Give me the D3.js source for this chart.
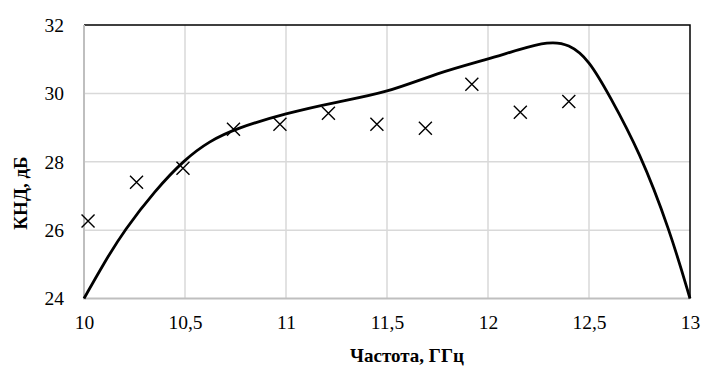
<!DOCTYPE html>
<html><head><meta charset="utf-8">
<script src="https://cdn.jsdelivr.net/npm/d3@7"></script>
<style>body{margin:0;background:#fff}svg{display:block}</style>
</head><body>
<svg id="c" width="701" height="367"></svg>
<script>
const curveFreq = [10.0, 10.1, 10.2, 10.35, 10.5, 10.62, 10.75, 11.0, 11.25, 11.5, 11.75, 12.0, 12.15, 12.3, 12.4, 12.5, 12.6, 12.75, 12.9, 13.0];
const curveGain = [24.0, 25.05, 26.0, 27.15, 28.08, 28.6, 28.97, 29.42, 29.75, 30.02, 30.6, 31.0, 31.28, 31.52, 31.45, 30.98, 29.95, 28.3, 26.0, 24.0];
const measFreq = [10.02, 10.26, 10.49, 10.74, 10.97, 11.21, 11.45, 11.69, 11.92, 12.16, 12.40];
const measGain = [26.27, 27.4, 27.81, 28.95, 29.1, 29.42, 29.1, 28.98, 30.27, 29.45, 29.76];
const xTicks = [10, 10.5, 11, 11.5, 12, 12.5, 13];
const yTicks = [24, 26, 28, 30, 32];
const xTitle = "Частота, ГГц";
const yTitle = "КНД, дБ";

const svg = d3.select("#c");
const L = 84, R = 690, T = 25, B = 298.5;
const x = d3.scaleLinear().domain([10, 13]).range([L, R]);
const y = d3.scaleLinear().domain([24, 32]).range([B, T]);
const fmt = d => String(d).replace(".", ",");

svg.append("g").selectAll("line").data(xTicks.slice(1, -1)).join("line")
  .attr("x1", d => x(d)).attr("x2", d => x(d)).attr("y1", T).attr("y2", B)
  .attr("stroke", "#d9d9d9").attr("stroke-width", 1.5);
svg.append("g").selectAll("line").data(yTicks.slice(1, -1)).join("line")
  .attr("y1", d => y(d)).attr("y2", d => y(d)).attr("x1", L).attr("x2", R)
  .attr("stroke", "#d9d9d9").attr("stroke-width", 1.5);
svg.append("path").attr("d", `M${L},${T}H${R}V${B}`).attr("fill", "none").attr("stroke", "#000").attr("stroke-width", 1.5);
svg.append("path").attr("d", `M${L},${T}V${B}H${R}`).attr("fill", "none").attr("stroke", "#bfbfbf").attr("stroke-width", 2);

const xa = svg.append("g").attr("transform", `translate(0,${B})`)
  .call(d3.axisBottom(x).tickValues(xTicks).tickFormat(fmt).tickSize(0).tickPadding(17));
const ya = svg.append("g").attr("transform", `translate(${L},0)`)
  .call(d3.axisLeft(y).tickValues(yTicks).tickFormat(fmt).tickSize(0).tickPadding(20));
[xa, ya].forEach(a => {
  a.select(".domain").remove();
  a.selectAll("line").remove();
  a.attr("font-family", null).attr("font-size", null).attr("fill", null);
});

const pts = curveFreq.map((f, i) => [f, curveGain[i]]);
svg.append("path").datum(pts)
  .attr("d", d3.line().x(d => x(d[0])).y(d => y(d[1])).curve(d3.curveBasis))
  .attr("fill", "none").attr("stroke", "#000").attr("stroke-width", 2.8);

const s = 6.5;
svg.append("g").selectAll("path").data(measFreq.map((f, i) => [f, measGain[i]])).join("path")
  .attr("d", d => { const cx = x(d[0]), cy = y(d[1]); return `M${cx-s},${cy-s}L${cx+s},${cy+s}M${cx-s},${cy+s}L${cx+s},${cy-s}`; })
  .attr("stroke", "#000").attr("stroke-width", 1.4).attr("fill", "none");

svg.append("text").attr("class", "ttl").attr("x", 407).attr("y", 362).attr("text-anchor", "middle")
  .style("font-weight", "bold").text(xTitle);
svg.append("text").attr("class", "ttl").attr("transform", "translate(27,193) rotate(-90)").attr("text-anchor", "middle")
  .style("font-weight", "bold").text(yTitle);

svg.selectAll("text")
  .attr("font-family", "Liberation Serif")
  .style("font-family", "Liberation Serif", "important")
  .style("font-size", function() { return this.getAttribute("class") === "ttl" ? "19px" : "19.5px"; }, "important")
  .attr("fill", "#000");
</script>
</body></html>
